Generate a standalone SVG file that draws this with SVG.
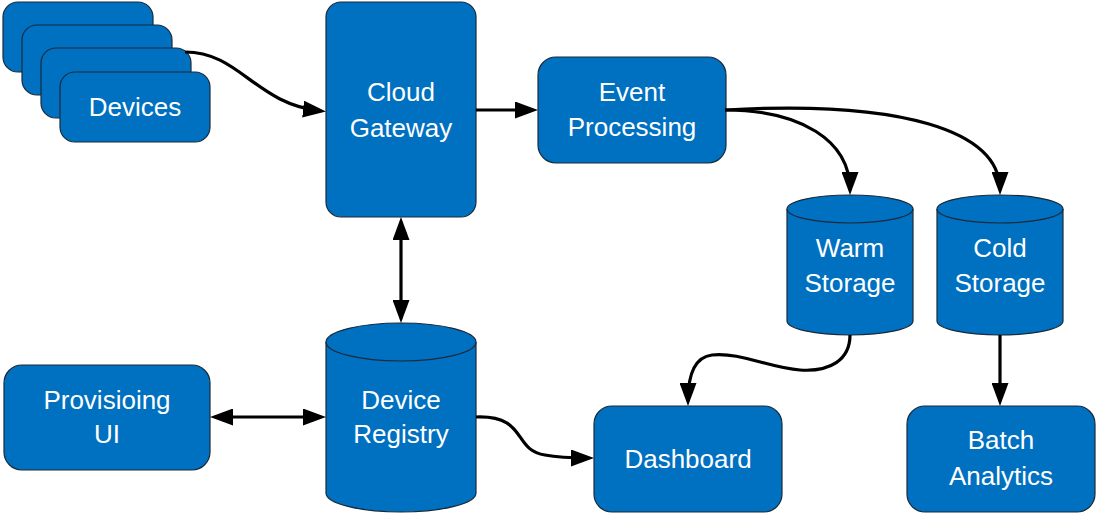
<svg xmlns="http://www.w3.org/2000/svg" width="1098" height="513" viewBox="0 0 1098 513">
<style>
.n{fill:#0070C0;stroke:#1A2A3A;stroke-width:1.2}
.t{fill:#ffffff;font-family:"Liberation Sans",Arial,sans-serif;font-size:26px;text-anchor:middle}
.c{fill:none;stroke:#000000;stroke-width:3.2}
.e{fill:none;stroke:#1A2A3A;stroke-width:1.2}
</style>
<defs>
<marker id="ah" viewBox="0 0 23 17" markerWidth="23" markerHeight="17" markerUnits="userSpaceOnUse" refX="18" refY="8.5" orient="auto-start-reverse">
<path d="M0,0 L23,8.5 L0,17 Z" fill="#000000"/>
</marker>
</defs>
<rect width="1098" height="513" fill="#ffffff"/>
<g id="devices">
<rect class="n" x="3" y="2" width="150" height="70" rx="15"/>
<rect class="n" x="22" y="25" width="150" height="70" rx="15"/>
<rect class="n" x="41" y="48" width="150" height="70" rx="15"/>
<rect class="n" x="60" y="72" width="150" height="70" rx="15"/>
<text class="t" x="135" y="116">Devices</text>
</g>
<g id="cloud-gateway">
<rect class="n" x="326" y="2" width="150" height="215" rx="15"/>
<text class="t" x="401" y="101">Cloud</text>
<text class="t" x="401" y="137">Gateway</text>
</g>
<g id="event-processing">
<rect class="n" x="538" y="57" width="188" height="106" rx="18"/>
<text class="t" x="632" y="101">Event</text>
<text class="t" x="632" y="136">Processing</text>
</g>
<g id="warm-storage">
<path class="n" d="M787,209 A63,14 0 0 1 913,209 L913,321 A63,14 0 0 1 787,321 Z"/>
<path class="e" d="M787,209 A63,14 0 0 0 913,209"/>
<text class="t" x="850" y="257">Warm</text>
<text class="t" x="850" y="292">Storage</text>
</g>
<g id="cold-storage">
<path class="n" d="M937,209 A63,14 0 0 1 1063,209 L1063,321 A63,14 0 0 1 937,321 Z"/>
<path class="e" d="M937,209 A63,14 0 0 0 1063,209"/>
<text class="t" x="1000" y="257">Cold</text>
<text class="t" x="1000" y="292">Storage</text>
</g>
<g id="device-registry">
<path class="n" d="M326,342 A75,19 0 0 1 476,342 L476,493 A75,19 0 0 1 326,493 Z"/>
<path class="e" d="M326,342 A75,19 0 0 0 476,342"/>
<text class="t" x="401" y="409">Device</text>
<text class="t" x="401" y="443">Registry</text>
</g>
<g id="provisioning-ui">
<rect class="n" x="4" y="365" width="206" height="105" rx="18"/>
<text class="t" x="107" y="409">Provisioing</text>
<text class="t" x="107" y="443">UI</text>
</g>
<g id="dashboard">
<rect class="n" x="594" y="406" width="188" height="106" rx="18"/>
<text class="t" x="688" y="468">Dashboard</text>
</g>
<g id="batch-analytics">
<rect class="n" x="907" y="406" width="188" height="106" rx="18"/>
<text class="t" x="1001" y="449">Batch</text>
<text class="t" x="1001" y="485">Analytics</text>
</g>
<g id="connectors">
<path class="c" marker-end="url(#ah)" d="M185,52 C240,52 255,104 321,111"/>
<path class="c" marker-end="url(#ah)" d="M476,110 L533,110"/>
<path class="c" marker-end="url(#ah)" d="M725,110 C800,110 850,140 850,190"/>
<path class="c" marker-end="url(#ah)" d="M725,110 C900,100 1000,130 1000,190"/>
<path class="c" marker-start="url(#ah)" marker-end="url(#ah)" d="M401,222 L401,318"/>
<path class="c" marker-start="url(#ah)" marker-end="url(#ah)" d="M215,417 L321,417"/>
<path class="c" marker-end="url(#ah)" d="M476,417 C528,415 512,450 545,455 C560,458 572,458 589,458"/>
<path class="c" marker-end="url(#ah)" d="M850,335 C850,360 830,372 800,370 C770,368 740,352 712,355 C695,357 688,375 688,401"/>
<path class="c" marker-end="url(#ah)" d="M1000,335 L1000,401"/>
</g>
</svg>
